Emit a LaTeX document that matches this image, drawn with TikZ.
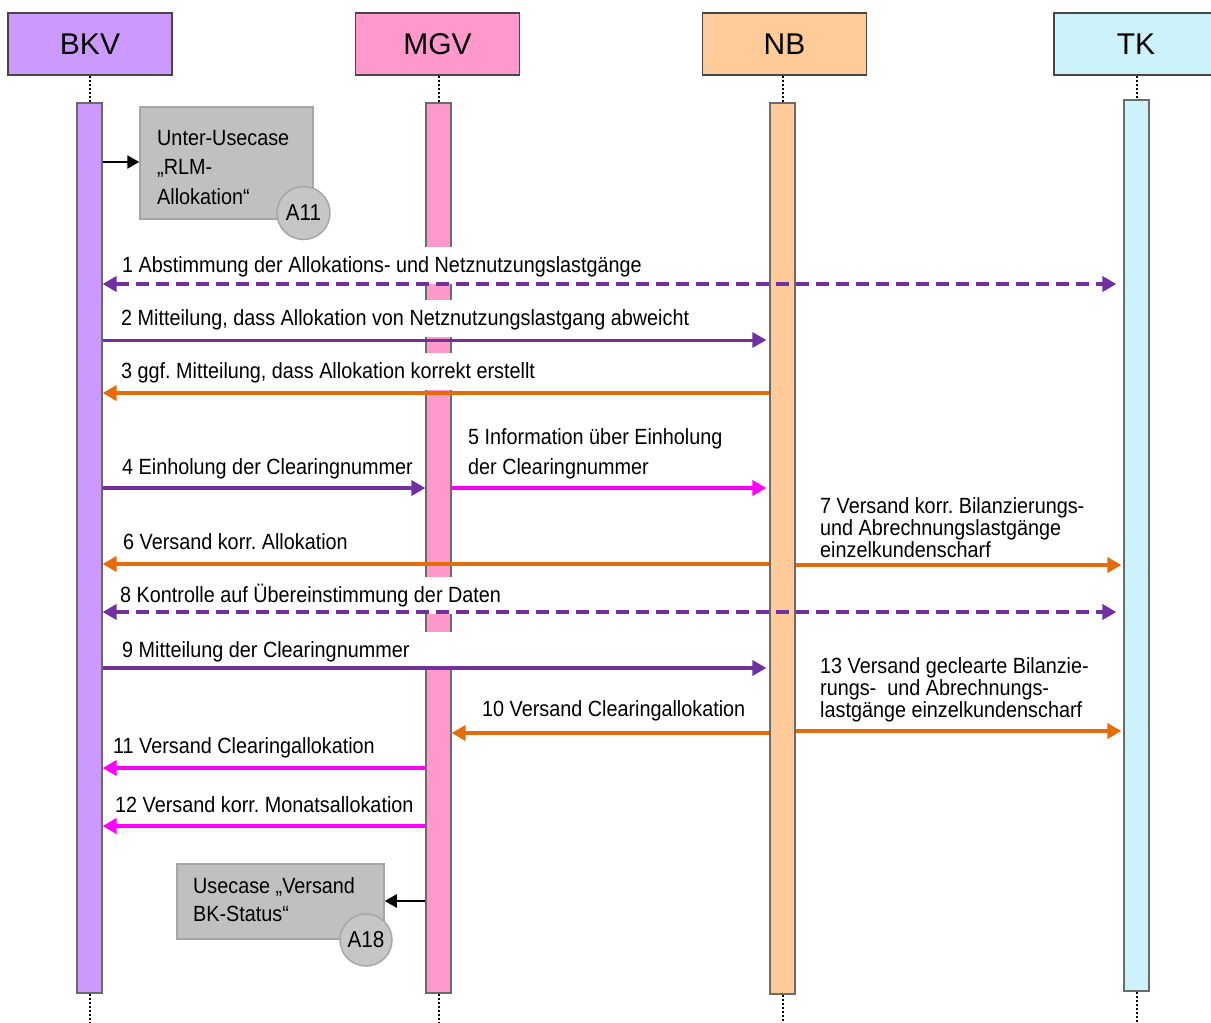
\documentclass[tikz,border=0pt]{standalone}
\usepackage{fontspec}
\setmainfont{Liberation Sans}
\newfontfamily\lblfont{Liberation Sans}[FakeStretch=0.9]
\usetikzlibrary{arrows.meta}
\definecolor{cbkv}{HTML}{CC99FF}
\definecolor{cmgv}{HTML}{FF99CC}
\definecolor{cnb}{HTML}{FFCC99}
\definecolor{ctk}{HTML}{CCF2FA}
\definecolor{cpur}{HTML}{7030A0}
\definecolor{cora}{HTML}{E46C0A}
\definecolor{cmag}{HTML}{FF00FF}
\definecolor{cboxfill}{HTML}{C0C0C0}
\definecolor{cboxdraw}{HTML}{A6A6A6}
\definecolor{ccirc}{HTML}{C6C6C6}
\begin{document}
\frenchspacing
\begin{tikzpicture}[x=1pt,y=-1pt,
  >={Triangle[length=14pt,width=15pt]},
  hdr/.style={draw=black!72, line width=1.2pt, minimum width=164pt, minimum height=62pt, inner sep=0pt, font=\fontsize{30}{30}\selectfont},
  lifebar/.style={draw=black!58, line width=1.2pt, minimum width=25pt, inner sep=0pt},
  lifeline/.style={line width=2pt, dash pattern=on 2pt off 2pt},
  lbl/.style={anchor=base west, fill=white, inner xsep=2pt, inner ysep=0pt, text height=25pt, text depth=12pt, font=\lblfont\fontsize{22}{22}\selectfont},
  mlbl/.style={anchor=base west, align=left, inner sep=0pt, font=\lblfont\fontsize{22}{22}\selectfont},
  msg/.style={line width=4.5pt},
  dsh/.style={dash pattern=on 13.5pt off 6.5pt},
  ucbox/.style={draw=cboxdraw, fill=cboxfill, line width=1.5pt, inner sep=0pt},
  uccirc/.style={circle, draw=cboxdraw, fill=ccirc, line width=1.5pt, inner sep=0pt, font=\lblfont\fontsize{23}{23}\selectfont},
  blk/.style={line width=2.5pt, -{Triangle[length=12pt,width=13pt]}}
]
\useasboundingbox (0,0) rectangle (1211,1023);

% headers
\node[hdr, fill=cbkv] (bkv) at (90,44) {BKV};
\node[hdr, fill=cmgv] (mgv) at (437.5,44) {MGV};
\node[hdr, fill=cnb] (nb) at (784.5,44) {NB};
\node[hdr, fill=ctk] (tk) at (1136,44) {TK};

% activation bars
\node[lifebar, fill=cbkv, minimum height=890pt] (bkvbar) at (89.5,548) {};
\node[lifebar, fill=cmgv, minimum height=890pt] (mgvbar) at (438.5,548) {};
\node[lifebar, fill=cnb, minimum height=891pt] (nbbar) at (782.5,548.5) {};
\node[lifebar, fill=ctk, minimum height=891pt] (tkbar) at (1136.5,545.5) {};

% lifelines
\draw[lifeline] (bkvbar.north |- bkv.south) -- (bkvbar.north);
\draw[lifeline] (mgvbar.north |- mgv.south) -- (mgvbar.north);
\draw[lifeline] (nbbar.north |- nb.south) -- (nbbar.north);
\draw[lifeline] (tkbar.north |- tk.south) -- (tkbar.north);
\coordinate (bkvend) at (89.5,1023);
\coordinate (mgvend) at (438.5,1023);
\coordinate (nbend) at (782.5,1023);
\coordinate (tkend) at (1136.5,1023);
\draw[lifeline] (bkvbar.south) -- (bkvend);
\draw[lifeline] (mgvbar.south) -- (mgvend);
\draw[lifeline] (nbbar.south) -- (nbend);
\draw[lifeline] (tkbar.south) -- (tkend);

% use case boxes
\node[ucbox, minimum width=173pt, minimum height=112pt] (a11box) at (226.5,163) {};
\node[mlbl, font=\lblfont\fontsize{22}{29.5}\selectfont] (a11txt) at (157,204) {Unter-Usecase\\„RLM-\\Allokation“};
\node[uccirc, minimum size=53pt] (a11) at (303.5,213) {A11};
\draw[blk] (bkvbar.east |- 0,162) -- (a11box.west |- 0,162);

\node[ucbox, minimum width=207pt, minimum height=75pt] (a18box) at (280.5,901.5) {};
\node[mlbl, font=\lblfont\fontsize{22}{28}\selectfont] (a18txt) at (193,921) {Usecase „Versand\\BK-Status“};
\node[uccirc, minimum size=52pt] (a18) at (366,940) {A18};
\draw[blk] (mgvbar.west |- 0,901) -- (a18box.east |- 0,901);

% labels
\node[lbl] (l1) at (120,272) {1 Abstimmung der Allokations- und Netznutzungslastgänge};
\node[lbl] (l2) at (119,325) {2 Mitteilung, dass Allokation von Netznutzungslastgang abweicht};
\node[lbl] (l3) at (119,378) {3 ggf. Mitteilung, dass Allokation korrekt erstellt};
\node[lbl] (l4) at (120,474) {4 Einholung der Clearingnummer};
\node[mlbl, font=\lblfont\fontsize{22}{30}\selectfont] (l5) at (468,474) {5 Information über Einholung\\der Clearingnummer};
\node[lbl] (l6) at (121,549) {6 Versand korr. Allokation};
\node[mlbl] (l7) at (820,557) {7 Versand korr. Bilanzierungs-\\und Abrechnungslastgänge\\einzelkundenscharf};
\node[lbl] (l8) at (118,602) {8 Kontrolle auf Übereinstimmung der Daten};
\node[lbl] (l9) at (120,657) {\makebox[335pt][l]{9 Mitteilung der Clearingnummer}};
\node[lbl] (l10) at (480,716) {10 Versand Clearingallokation};
\node[mlbl] (l13) at (820,717) {13 Versand geclearte Bilanzie-\\rungs-\ \ und Abrechnungs-\\lastgänge einzelkundenscharf};
\node[lbl] (l11) at (111,753) {11 Versand Clearingallokation};
\node[lbl] (l12) at (113,812) {12 Versand korr. Monatsallokation};

% messages
\draw[msg, cpur, dsh, <->, shorten >=7pt] (bkvbar.east |- 0,284) -- (tkbar.west |- 0,284);
\draw[cpur, line width=3pt, ->, shorten >=3pt] (bkvbar.east |- 0,340) -- (nbbar.west |- 0,340);
\draw[msg, cora, ->] (nbbar.west |- 0,393) -- (bkvbar.east |- 0,393);
\draw[msg, cpur, ->] (bkvbar.east |- 0,488) -- (mgvbar.west |- 0,488);
\draw[msg, cmag, ->, shorten >=3pt] (mgvbar.east |- 0,488) -- (nbbar.west |- 0,488);
\draw[msg, cora, ->] (nbbar.west |- 0,564) -- (bkvbar.east |- 0,564);
\draw[msg, cora, ->, shorten >=2pt] (nbbar.east |- 0,565) -- (tkbar.west |- 0,565);
\draw[msg, cpur, dsh, <->, shorten >=7pt] (bkvbar.east |- 0,612) -- (tkbar.west |- 0,612);
\draw[msg, cpur, ->, shorten >=3pt] (bkvbar.east |- 0,668) -- (nbbar.west |- 0,668);
\draw[msg, cora, ->] (nbbar.west |- 0,733) -- (mgvbar.east |- 0,733);
\draw[msg, cora, ->, shorten >=2pt] (nbbar.east |- 0,731) -- (tkbar.west |- 0,731);
\draw[msg, cmag, ->] (mgvbar.west |- 0,768) -- (bkvbar.east |- 0,768);
\draw[msg, cmag, ->] (mgvbar.west |- 0,826) -- (bkvbar.east |- 0,826);
\end{tikzpicture}
\end{document}
